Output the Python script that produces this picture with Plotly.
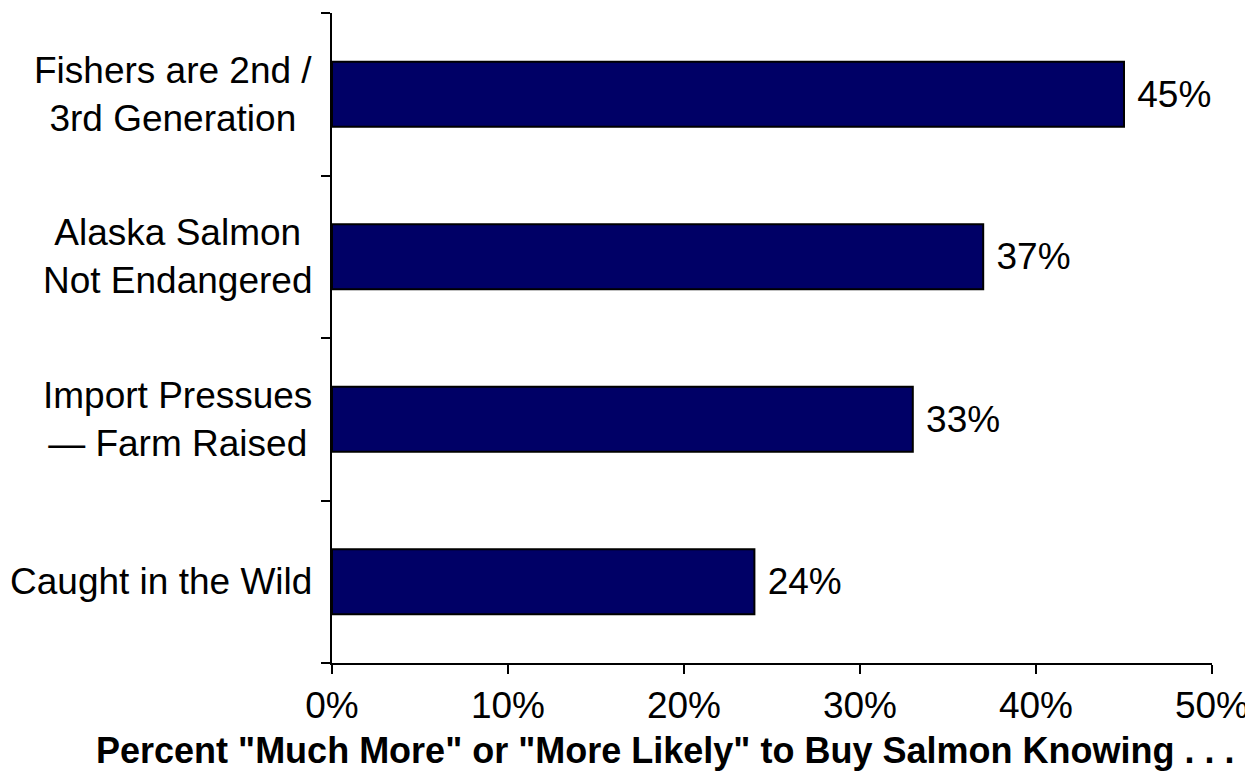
import plotly.graph_objects as go

# ── data ──────────────────────────────────────────────────────────────────────
categories = [
    "Caught in the Wild",
    "Import Pressues<br>— Farm Raised",
    "Alaska Salmon<br>Not Endangered",
    "Fishers are 2nd /<br>3rd Generation",
]
values = [24, 33, 37, 45]
x_ticks = [0, 10, 20, 30, 40, 50]
x_tick_labels = [f"{v}%" for v in x_ticks]

FONT = "Liberation Sans, Arial, Helvetica, sans-serif"
NAVY = "#000066"

fig = go.Figure(
    go.Bar(
        y=categories,
        x=values,
        orientation="h",
        width=0.4,
        marker=dict(color=NAVY, line=dict(color="black", width=2)),
        text=[f" {v}%" for v in values],
        textposition="outside",
        textfont=dict(size=37, color="black", family=FONT),
        cliponaxis=False,
    )
)

# category labels: centred lines, block right-aligned next to the axis
for cat in categories:
    fig.add_annotation(
        x=0, y=cat, xref="x", yref="y",
        text=cat, showarrow=False,
        xanchor="right", align="center", xshift=-18,
        font=dict(size=37, color="black", family=FONT),
    )

# axis title, set as an annotation so it can sit left of the plot centre
fig.add_annotation(
    x=0.378, y=-0.134, xref="paper", yref="paper",
    text='<b>Percent "Much More" or "More Likely" to Buy Salmon Knowing . . .</b>',
    showarrow=False, xanchor="center", yanchor="middle",
    font=dict(size=36, color="black", family=FONT),
)

fig.update_layout(
    width=1253,
    height=779,
    margin=dict(l=324, r=49, t=5, b=124),
    paper_bgcolor="white",
    plot_bgcolor="white",
    showlegend=False,
    font=dict(family=FONT, color="black"),
    xaxis=dict(
        range=[0, 50],
        tickmode="array",
        tickvals=x_ticks,
        ticktext=x_tick_labels,
        ticks="outside",
        ticklen=9,
        tickwidth=2,
        tickcolor="black",
        showline=True,
        linecolor="black",
        linewidth=2,
        showgrid=False,
        zeroline=False,
        tickfont=dict(size=37),
        automargin=False,
    ),
    yaxis=dict(
        range=[-0.5, 3.5],
        showticklabels=False,
        ticks="outside",
        tickson="boundaries",
        ticklen=9,
        tickwidth=2,
        tickcolor="black",
        showline=True,
        linecolor="black",
        linewidth=2,
        showgrid=False,
        automargin=False,
    ),
)

fig.write_html("out.html")
